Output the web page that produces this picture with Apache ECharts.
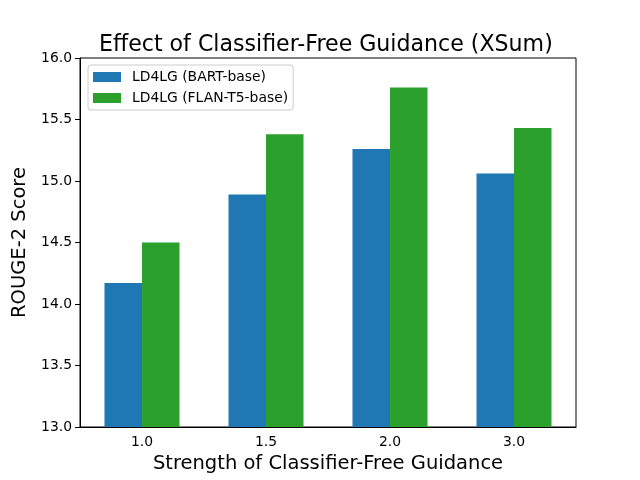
<!DOCTYPE html>
<html>
<head>
<meta charset="utf-8">
<script src="https://cdn.jsdelivr.net/npm/echarts@6/dist/echarts.min.js"></script>
<style>html,body{margin:0;padding:0;background:#fff}#c{width:640px;height:480px}</style>
</head>
<body>
<div id="c"></div>
<script>
const categories = ['1.0', '1.5', '2.0', '3.0'];
const bartBase = [14.17, 14.89, 15.26, 15.06];
const flanT5Base = [14.50, 15.38, 15.76, 15.43];
const seriesNames = ['LD4LG (BART-base)', 'LD4LG (FLAN-T5-base)'];

const chart = echarts.init(document.getElementById('c'), null, {renderer: 'canvas'});
const font = 'DejaVu Sans';
chart.setOption({
  animation: false,
  backgroundColor: '#ffffff',
  textStyle: {fontFamily: font},
  title: {
    text: 'Effect of Classifier-Free Guidance (XSum)',
    left: 99, top: 34, padding: 0,
    textStyle: {fontFamily: font, fontSize: 22.1, fontWeight: 'normal', color: '#000'}
  },
  legend: {
    data: seriesNames,
    orient: 'vertical',
    left: 88, top: 65,
    itemWidth: 28, itemHeight: 10, itemGap: 7,
    padding: [5, 5, 5, 5],
    borderColor: '#cccccc', borderWidth: 1, borderRadius: 3,
    backgroundColor: 'rgba(255,255,255,0.8)',
    icon: 'rect',
    textStyle: {fontFamily: font, fontSize: 13.9, color: '#000', padding: [0, 0, 0, 6]}
  },
  grid: {
    left: 80, right: 64, top: 58, bottom: 53,
    show: true, borderColor: '#000', borderWidth: 1, backgroundColor: 'transparent'
  },
  xAxis: {
    type: 'category',
    data: categories,
    name: 'Strength of Classifier-Free Guidance',
    nameLocation: 'middle', nameGap: 27,
    nameTextStyle: {fontFamily: font, fontSize: 19.5, color: '#000'},
    axisLine: {lineStyle: {color: '#000', width: 1}},
    axisTick: {alignWithLabel: true, length: 5, lineStyle: {color: '#000'}},
    axisLabel: {fontFamily: font, fontSize: 13.9, color: '#000', margin: 8}
  },
  yAxis: {
    type: 'value',
    min: 13, max: 16, interval: 0.5,
    name: 'ROUGE-2 Score',
    nameLocation: 'middle', nameGap: 47,
    nameTextStyle: {fontFamily: font, fontSize: 19.5, color: '#000'},
    axisLine: {show: true, lineStyle: {color: '#000', width: 1}},
    axisTick: {show: true, length: 5, lineStyle: {color: '#000'}},
    splitLine: {show: false},
    axisLabel: {fontFamily: font, fontSize: 13.9, color: '#000', margin: 8,
      formatter: v => v.toFixed(1)}
  },
  series: [
    {name: seriesNames[0], type: 'bar', data: bartBase, barWidth: 37.5, barGap: '0%',
     itemStyle: {color: '#1f77b4'}},
    {name: seriesNames[1], type: 'bar', data: flanT5Base, barWidth: 37.5, barGap: '0%',
     itemStyle: {color: '#2ca02c'}}
  ]
});
</script>
</body>
</html>
